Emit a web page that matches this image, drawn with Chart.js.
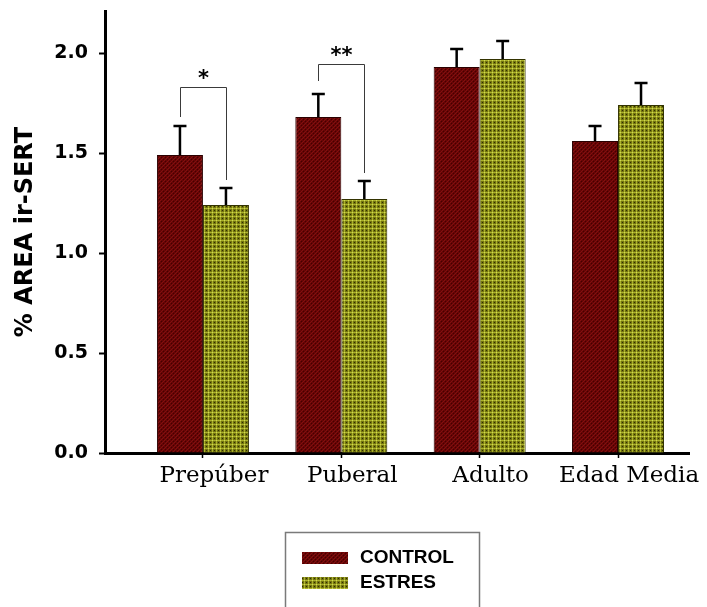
<!DOCTYPE html>
<html>
<head>
<meta charset="utf-8">
<title>% AREA ir-SERT</title>
<script src="https://cdn.jsdelivr.net/npm/chart.js@4/dist/chart.umd.min.js"></script>
<style>
  html, body { margin: 0; padding: 0; background: #ffffff; }
  canvas { display: block; }
</style>
</head>
<body>
<canvas id="chart" width="707" height="607"></canvas>
<script>
// Groups along the x axis
const categories = ['Prepúber', 'Puberal', 'Adulto', 'Edad Media'];
// Mean % area and SEM for each group
const controlMean = [1.49, 1.68, 1.93, 1.56];
const controlSem  = [0.145, 0.115, 0.09, 0.075];
const estresMean  = [1.24, 1.27, 1.97, 1.74];
const estresSem   = [0.085, 0.09, 0.09, 0.11];
// Y axis tick values
const yTicks = [0, 0.5, 1.0, 1.5, 2.0];
// Significance brackets: group index, label, bracket height, left / right leg ends
const sigGroup    = [0, 1];
const sigLabel    = ['*', '**'];
const sigTop      = [1.83, 1.945];
const sigLeftEnd  = [1.68, 1.86];
const sigRightEnd = [1.365, 1.40];

function makePattern(size, base, paint) {
  const c = document.createElement('canvas');
  c.width = size; c.height = size;
  const g = c.getContext('2d');
  g.fillStyle = base;
  g.fillRect(0, 0, size, size);
  for (let i = 0; i < size; i++) {
    for (let j = 0; j < size; j++) {
      const col = paint(i, j);
      if (col) { g.fillStyle = col; g.fillRect(i, j, 1, 1); }
    }
  }
  return g.createPattern(c, 'repeat');
}

const ctx0 = document.getElementById('chart').getContext('2d');
// dark red cross-hatch
const controlFill = makePattern(4, '#660505', (i, j) => {
  if ((i + j) % 4 === 0) return '#821010';
  if ((i - j + 4) % 4 === 0) return '#440000';
  return null;
});
// olive check with light grid
const estresFill = makePattern(4, '#737310', (i, j) => {
  if (i === 0 && j === 0) return '#d2d655';
  if (i === 0 || j === 0) return '#aab22a';
  if (i === 2 && j === 2) return '#2e3000';
  return null;
});

const errorBars = {
  id: 'errorBars',
  afterDatasetsDraw(chart) {
    const { ctx } = chart;
    const y = chart.scales.y;
    ctx.save();
    ctx.strokeStyle = '#000';
    ctx.lineWidth = 2.5;
    chart.data.datasets.forEach((ds, di) => {
      const meta = chart.getDatasetMeta(di);
      meta.data.forEach((el, i) => {
        const top = y.getPixelForValue(ds.means[i] + ds.sems[i]);
        ctx.beginPath();
        ctx.moveTo(el.x, el.y);
        ctx.lineTo(el.x, top);
        ctx.moveTo(el.x - 6.5, top);
        ctx.lineTo(el.x + 6.5, top);
        ctx.stroke();
      });
    });
    // significance brackets
    const m0 = chart.getDatasetMeta(0), m1 = chart.getDatasetMeta(1);
    sigGroup.forEach((g, k) => {
      const xl = Math.round(m0.data[g].x) + 0.5;
      const xr = Math.round(m1.data[g].x) + 0.5;
      const yt = Math.round(y.getPixelForValue(sigTop[k])) + 0.5;
      ctx.strokeStyle = '#3a3a3a';
      ctx.lineWidth = 1;
      ctx.beginPath();
      ctx.moveTo(xl, y.getPixelForValue(sigLeftEnd[k]));
      ctx.lineTo(xl, yt);
      ctx.lineTo(xr, yt);
      ctx.lineTo(xr, y.getPixelForValue(sigRightEnd[k]));
      ctx.stroke();
      ctx.fillStyle = '#000';
      ctx.font = 'bold 21px "DejaVu Sans"';
      ctx.textAlign = 'center';
      ctx.textBaseline = 'alphabetic';
      ctx.fillText(sigLabel[k], (xl + xr) / 2, yt - 3);
    });
    ctx.restore();
  }
};

const boxLegend = {
  id: 'boxLegend',
  afterDraw(chart) {
    const { ctx } = chart;
    ctx.save();
    ctx.strokeStyle = '#7a7a7a';
    ctx.lineWidth = 1.5;
    ctx.strokeRect(285.5, 532.5, 194, 90);
    chart.data.datasets.forEach((ds, i) => {
      const top = 552 + i * 25;
      ctx.fillStyle = ds.backgroundColor;
      ctx.fillRect(302, top, 46, 12);
      ctx.fillStyle = '#000';
      ctx.font = 'bold 19px "Liberation Sans", Arial, sans-serif';
      ctx.textAlign = 'left';
      ctx.textBaseline = 'middle';
      ctx.fillText(ds.label, 360, top + 6);
    });
    ctx.restore();
  }
};

new Chart(ctx0, {
  type: 'bar',
  data: {
    datasets: [
      {
        label: 'CONTROL',
        data: categories.map((c, i) => ({ x: i, y: controlMean[i] })),
        means: controlMean,
        sems: controlSem,
        backgroundColor: controlFill,
        borderColor: '#2a0000',
        borderWidth: 1,
        borderSkipped: 'bottom'
      },
      {
        label: 'ESTRES',
        data: categories.map((c, i) => ({ x: i, y: estresMean[i] })),
        means: estresMean,
        sems: estresSem,
        backgroundColor: estresFill,
        borderColor: '#333300',
        borderWidth: 1,
        borderSkipped: 'bottom'
      }
    ]
  },
  options: {
    responsive: false,
    animation: false,
    devicePixelRatio: 1,
    categoryPercentage: 0.665,
    barPercentage: 1.0,
    layout: { padding: { top: 11, right: 18, bottom: 114, left: 0 } },
    plugins: {
      legend: { display: false },
      tooltip: { enabled: false }
    },
    scales: {
      x: {
        type: 'linear',
        offset: false,
        min: -0.708,
        max: 3.513,
        afterBuildTicks(scale) {
          scale.ticks = categories.map((c, i) => ({ value: i }));
        },
        afterFit(scale) {
          scale.height = 40;
          scale.paddingLeft = 0;
          scale.paddingRight = 0;
        },
        ticks: {
          autoSkip: false,
          maxRotation: 0,
          labelOffset: 11,
          padding: 4,
          color: '#000',
          font: { family: '"DejaVu Serif"', size: 23 },
          callback: (v) => categories[Math.round(v)]
        },
        grid: {
          offset: false,
          drawOnChartArea: false,
          tickLength: 5,
          tickWidth: 1.5,
          tickColor: '#000'
        },
        border: { display: true, color: '#000', width: 3 }
      },
      y: {
        min: 0,
        max: 2.21,
        afterBuildTicks(scale) {
          scale.ticks = yTicks.map(v => ({ value: v }));
        },
        afterFit(scale) {
          scale.width = 105;
          scale.paddingTop = 0;
          scale.paddingBottom = 0;
        },
        ticks: {
          includeBounds: false,
          padding: 11,
          color: '#000',
          font: { family: '"DejaVu Sans"', size: 19, weight: 'bold' },
          callback: (v) => Number(v).toFixed(1)
        },
        grid: {
          drawOnChartArea: false,
          tickLength: 6,
          tickWidth: 2,
          tickColor: '#000'
        },
        border: { display: true, color: '#000', width: 3 },
        title: {
          display: true,
          text: '% AREA ir-SERT',
          color: '#000',
          padding: { top: 14, bottom: 0 },
          font: { family: '"DejaVu Sans"', size: 24, weight: 'bold', lineHeight: 1 }
        }
      }
    }
  },
  plugins: [errorBars, boxLegend]
});
</script>
</body>
</html>
